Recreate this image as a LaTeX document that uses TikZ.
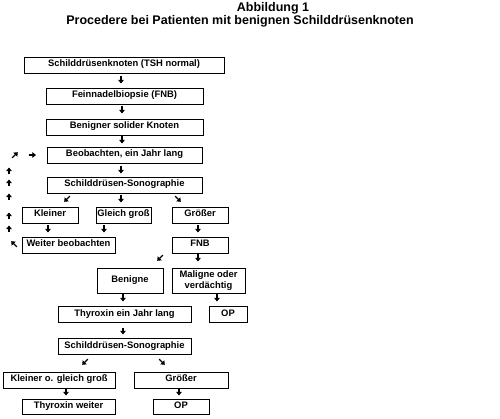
\documentclass[tikz,border=0pt]{standalone}
\usepackage{fontspec}
\setmainfont{Liberation Sans}
\usetikzlibrary{arrows.meta}
\begin{document}
\begin{tikzpicture}[x=1pt,y=-1pt,
  box/.style={draw,line width=0.8pt,inner sep=0pt,font=\bfseries\fontsize{9.4}{11}\selectfont},
  one/.style={text height=6.3pt,text depth=2.4pt},
  arr/.style={line width=1.3pt,-{Triangle[width=5.5pt,length=3.6pt]}},
  ttl/.style={font=\bfseries\fontsize{12.5}{14}\selectfont}]
\useasboundingbox (0,0) rectangle (500,419);
\node[ttl] (t1) at (273,8) {Abbildung 1};
\node[ttl] (t2) at (240,21.5) {Procedere bei Patienten mit benignen Schilddrüsenknoten};
% boxes
\node[box,one,minimum width=200pt,minimum height=16pt] (b1) at (124,65) {Schilddrüsenknoten (TSH normal)};
\node[box,one,minimum width=157pt,minimum height=16pt] (b2) at (124.5,96) {Feinnadelbiopsie (FNB)};
\node[box,one,minimum width=157pt,minimum height=16pt] (b3) at (124.5,127) {Benigner solider Knoten};
\node[box,one,minimum width=155pt,minimum height=16pt] (b4) at (124.5,155) {Beobachten, ein Jahr lang};
\node[box,one,minimum width=155pt,minimum height=16pt] (b5) at (124.5,185) {Schilddrüsen-Sonographie};
\node[box,one,minimum width=56pt,minimum height=16pt] (kl) at (50,215) {Kleiner};
\node[box,one,minimum width=55pt,minimum height=16pt] (gg) at (123.5,215) {Gleich groß};
\node[box,one,minimum width=56pt,minimum height=16pt] (gr) at (200,215) {Größer};
\node[box,one,minimum width=93pt,minimum height=16pt] (wb) at (68.5,245) {Weiter beobachten};
\node[box,one,minimum width=56pt,minimum height=16pt] (fnb) at (200,245) {FNB};
\node[box,one,minimum width=66pt,minimum height=25pt] (ben) at (130,280.5) {Benigne};
\node[box,align=center,minimum width=73pt,minimum height=25pt] (mal) at (208.5,281) {Maligne oder\\verdächtig};
\node[box,one,minimum width=133pt,minimum height=16pt] (thy) at (124.5,314.5) {Thyroxin ein Jahr lang};
\node[box,one,minimum width=38pt,minimum height=16pt] (op1) at (228,314.5) {OP};
\node[box,one,minimum width=133pt,minimum height=16pt] (s2) at (124.5,346.5) {Schilddrüsen-Sonographie};
\node[box,one,minimum width=112pt,minimum height=16pt] (kg) at (59,380) {Kleiner o. gleich groß};
\node[box,one,minimum width=94pt,minimum height=16pt] (gr2) at (181,380) {Größer};
\node[box,one,minimum width=93pt,minimum height=15pt] (tw) at (68.5,406.5) {Thyroxin weiter};
\node[box,one,minimum width=56pt,minimum height=15pt] (op2) at (181,406.5) {OP};
% short glyph-like arrows (down)
\foreach \x/\y in {121/80,122/110,122/140,121/170,121/199,48/229,104/229,198/229,198/258,123/298,217/298,123/331,66/392,179/392}
  \draw[arr] (\x,\y-3.5) -- (\x,\y+3.5);
% diagonal down-left
\foreach \x/\y in {67/199,160/258,85/362}
  \draw[arr] (\x+2.8,\y-2.8) -- (\x-2.8,\y+2.8);
% diagonal down-right
\foreach \x/\y in {178/199,162/362}
  \draw[arr] (\x-2.8,\y-2.8) -- (\x+2.8,\y+2.8);
% loop back on the left: up arrows
\foreach \y in {229,216,197,183,171}
  \draw[arr] (9,\y+3.5) -- (9,\y-3.5);
\draw[arr] (16.8,246.8) -- (11.2,241.2);
\draw[arr] (12.2,157.8) -- (17.8,152.2);
\draw[arr] (28.5,155) -- (36,155);
\end{tikzpicture}
\end{document}
